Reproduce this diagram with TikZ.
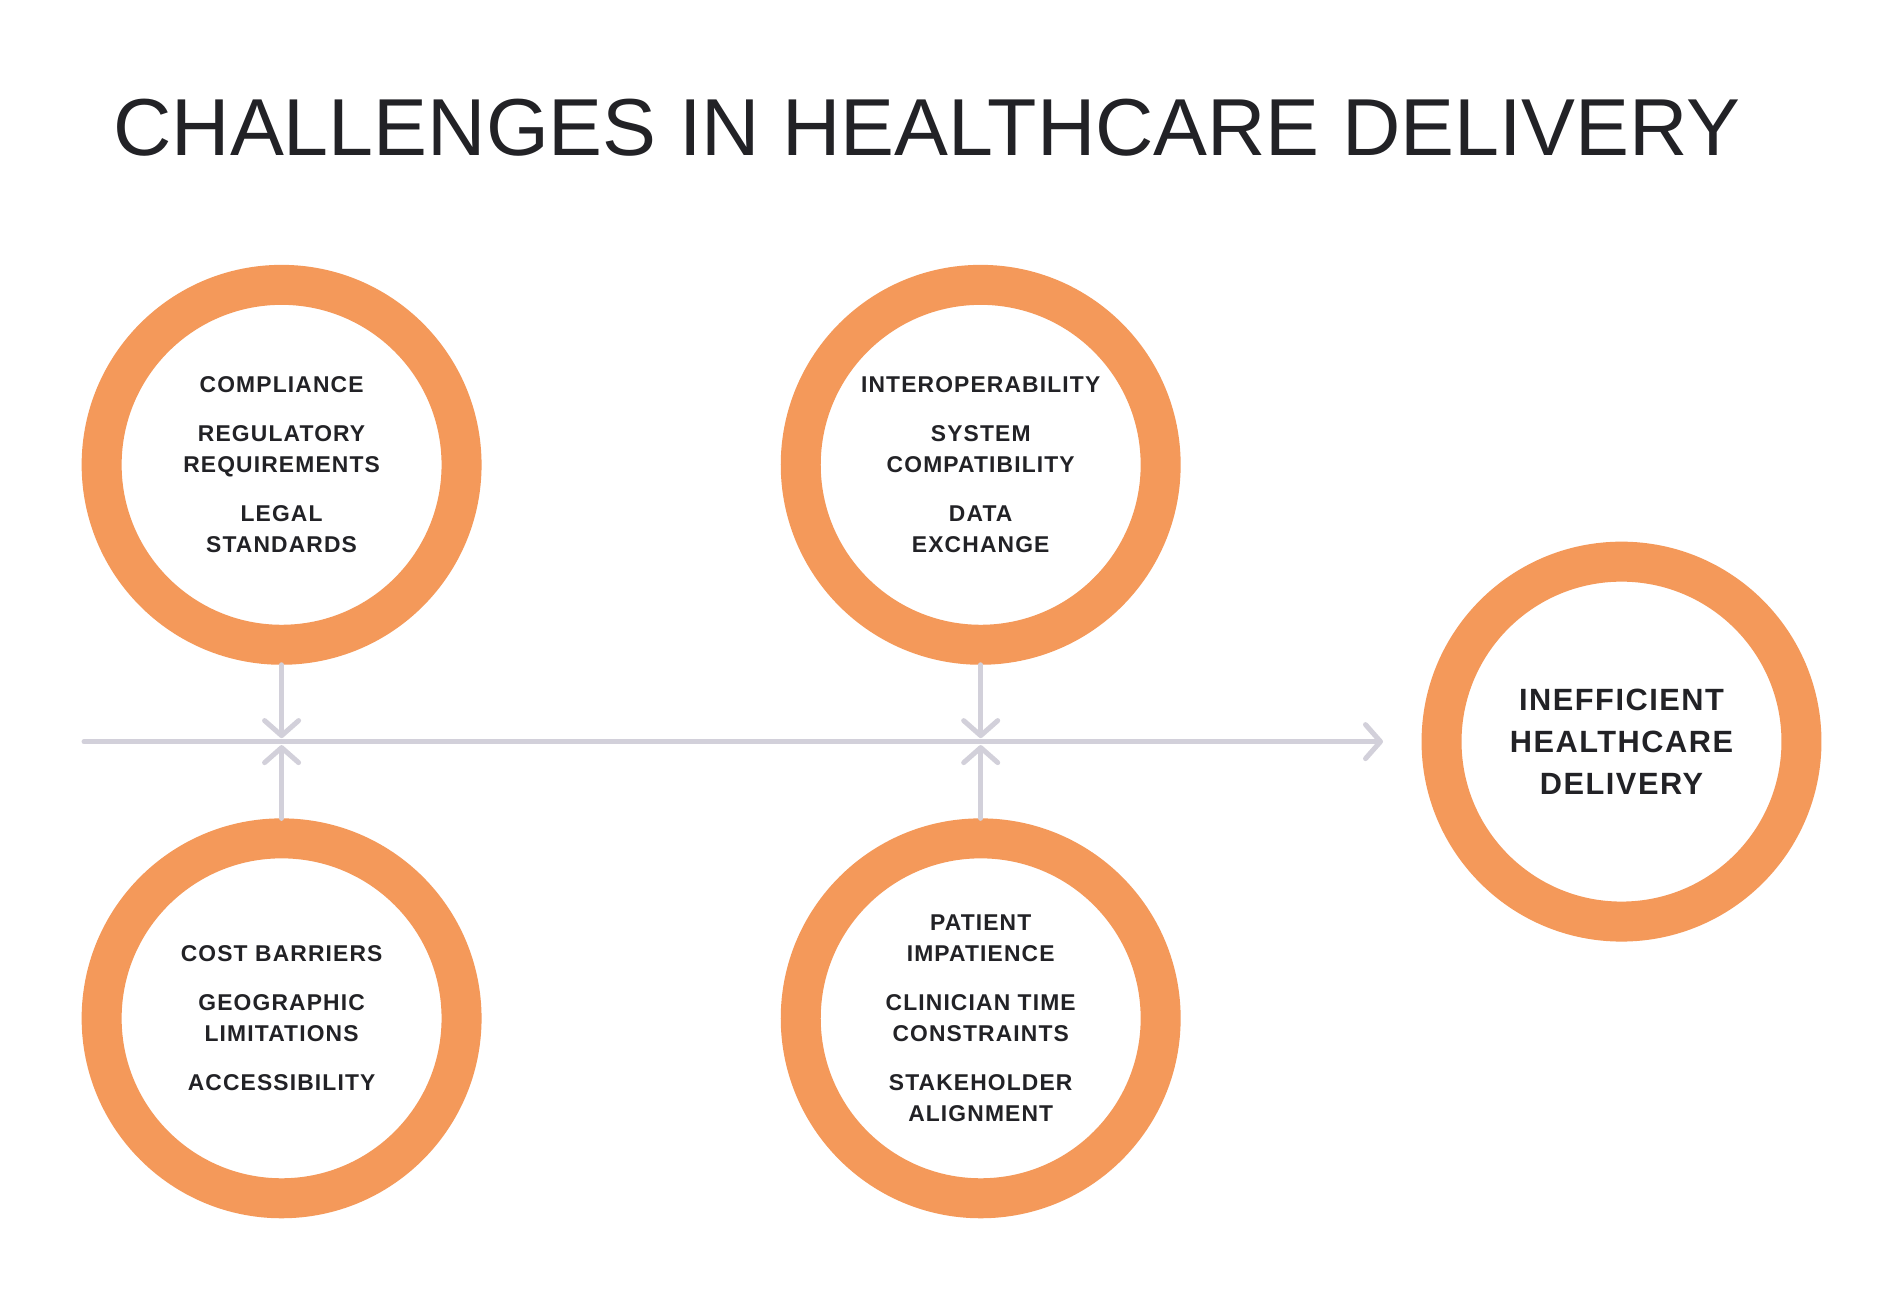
\documentclass[tikz,border=0pt]{standalone}
\usepackage{fontspec}
\setmainfont{Liberation Sans}
\usetikzlibrary{arrows.meta}
\definecolor{ringorange}{HTML}{F4995A}
\definecolor{axisgray}{HTML}{D2D0DA}
\definecolor{inkdark}{HTML}{222226}
\newcommand\lblfont{\fontsize{13}{18}\selectfont\bfseries\addfontfeatures{LetterSpace=5}}
\newcommand\outfont{\fontsize{17.5}{23.8}\selectfont\bfseries\addfontfeatures{LetterSpace=5}}
\tikzset{
  ring/.style={circle,draw=ringorange,line width=0.8cm,minimum size=7.2cm,inner sep=0pt,
    text=inkdark,align=center,font=\lblfont},
  flow/.style={draw=axisgray,line width=0.1cm,line cap=round,
    -{Straight Barb[length=0.3cm,width=0.68cm,round]}}
}
\begin{document}
\begin{tikzpicture}[x=0.02cm,y=-0.02cm]
\fill[white] (0,0) rectangle (1903,1299);
\useasboundingbox (0,0) rectangle (1903,1299);
\node[anchor=base,text=inkdark,font=\fontsize{46}{50}\selectfont] (title) at (927,155)
  {CHALLENGES IN HEALTHCARE DELIVERY};
% causes
\node[ring] (compl) at (281.6,464.8) {COMPLIANCE\\[9.6pt]REGULATORY\\REQUIREMENTS\\[9.6pt]LEGAL\\STANDARDS};
\node[ring] (interop) at (980.7,464.8) {INTEROPERABILITY\\[9.6pt]SYSTEM\\COMPATIBILITY\\[9.6pt]DATA\\EXCHANGE};
\node[ring] (access) at (281.6,1018.3) {COST BARRIERS\\[9.6pt]GEOGRAPHIC\\LIMITATIONS\\[9.6pt]ACCESSIBILITY};
\node[ring] (stake) at (980.7,1018.3) {PATIENT\\IMPATIENCE\\[9.6pt]CLINICIAN TIME\\CONSTRAINTS\\[9.6pt]STAKEHOLDER\\ALIGNMENT};
% effect
\node[ring,font=\outfont] (outcome) at (1621.5,741.6) {INEFFICIENT\\HEALTHCARE\\DELIVERY};
% spine
\coordinate (tail) at (84,741.6);
\coordinate (head) at (1383,741.6);
\draw[flow] (tail) -- (head);
\foreach \n in {compl,interop}
  \draw[flow,shorten >=0.07cm] (\n.south) -- (\n.south |- head);
\foreach \n in {access,stake}
  \draw[flow,shorten >=0.07cm] (\n.north) -- (\n.north |- head);
\end{tikzpicture}
\end{document}
